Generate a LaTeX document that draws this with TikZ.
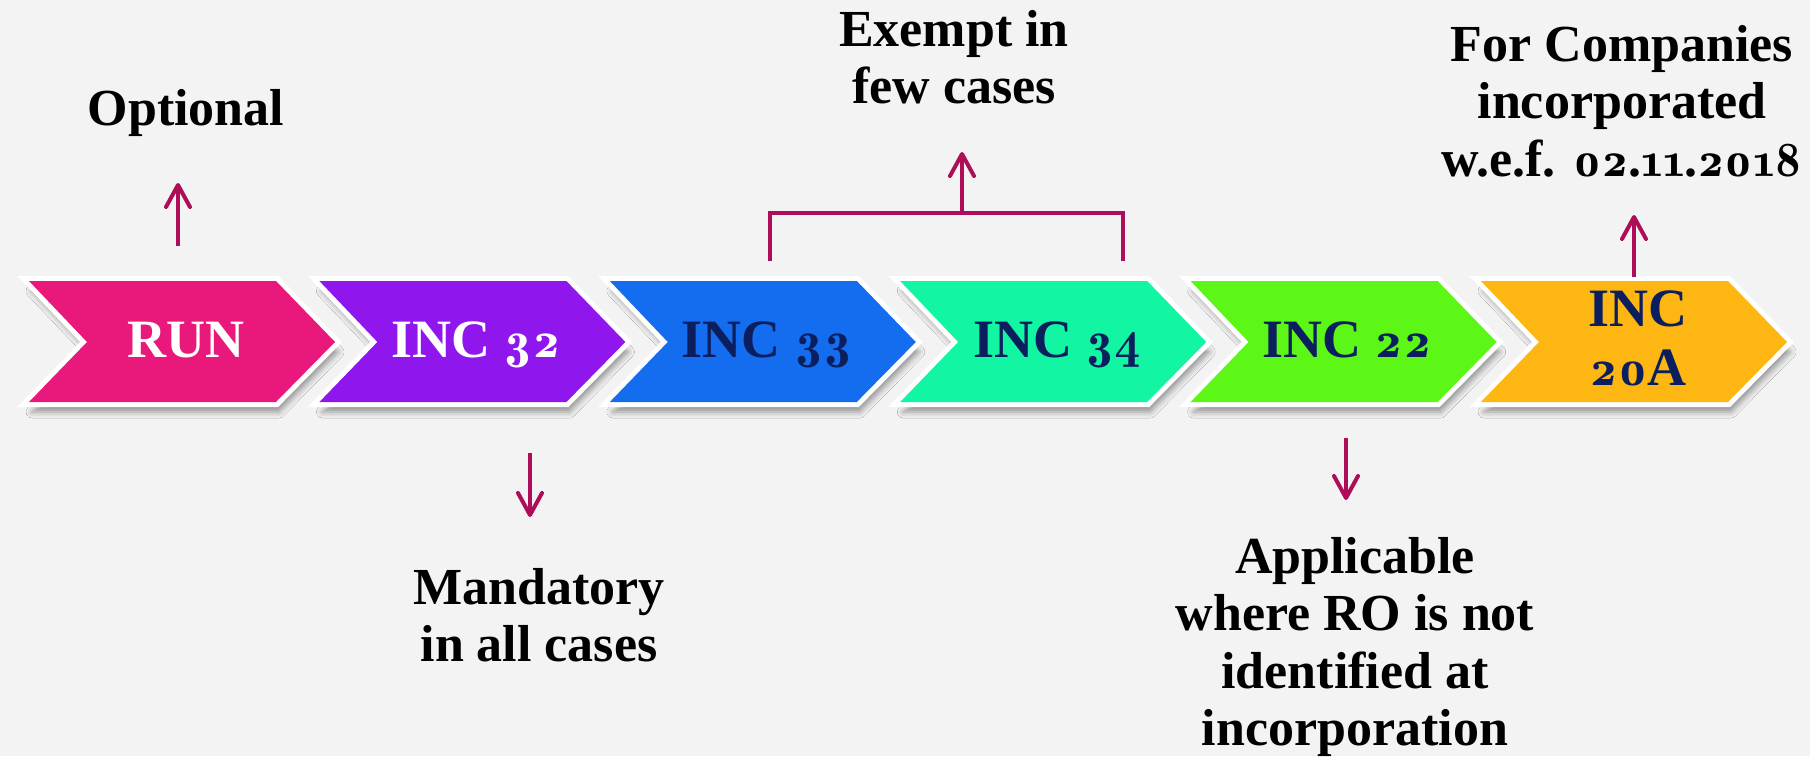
\documentclass[tikz,border=0pt]{standalone}
\usepackage{fontspec}
\setmainfont{Liberation Serif}
\newfontfamily\osfont[Numbers=OldStyle,Scale=0.95]{Latin Modern Roman Demi}
\usepackage{tikz}
\usetikzlibrary{arrows.meta,shadows.blur}
\definecolor{bgpaper}{HTML}{F3F3F3}
\definecolor{runpink}{HTML}{E9197B}
\definecolor{incpurple}{HTML}{9016EE}
\definecolor{incblue}{HTML}{146DEF}
\definecolor{incteal}{HTML}{12F5A3}
\definecolor{incgreen}{HTML}{5CF717}
\definecolor{incorange}{HTML}{FEB612}
\definecolor{navytext}{HTML}{0B1F5E}
\definecolor{arrowred}{HTML}{AE0D5A}
% old style figures
\newcommand{\osn}[1]{{\osfont #1}}

\begin{document}
\begin{tikzpicture}[
        x=0.5pt, y=-0.5pt,
        chevron/.style={
            draw=white,
            line width=5pt,
            line join=miter,
            blur shadow={shadow xshift=1.5pt, shadow yshift=-5pt,
                shadow opacity=40, shadow blur radius=3pt}
        },
        steplabel/.style={
            font=\fontsize{27pt}{29.5pt}\selectfont\bfseries,
            anchor=base,
            inner sep=0pt
        },
        note/.style={
            font=\fontsize{26pt}{28.75pt}\selectfont\bfseries,
            align=center,
            anchor=north,
            inner sep=0pt
        },
        pointer/.style={
            draw=arrowred,
            line width=2pt,
            -{Straight Barb[length=11pt,width=12pt,round]}
        }
    ]
        \path[use as bounding box, fill=bgpaper] (0,0) rectangle (1810,756);

        \foreach \i/\col in {0/runpink,1/incpurple,2/incblue,3/incteal,4/incgreen,5/incorange} {
            \pgfmathsetmacro\L{29+290.4*\i}
            \filldraw[chevron, fill=white] (\L,281) -- ++(247,0) -- ++(59,61) -- ++(-59,60) -- ++(-247,0) -- ++(58,-60) -- cycle;
            \fill[\col] (\L,281) -- ++(247,0) -- ++(59,61) -- ++(-59,60) -- ++(-247,0) -- ++(58,-60) -- cycle;
        }

        \node[steplabel, text=white] (run) at (186,357) {RUN};
        \node[steplabel, text=white] (inc32) at (476,357) {INC \osn{32}};
        \node[steplabel, text=navytext] (inc33) at (767,357) {INC \osn{33}};
        \node[steplabel, text=navytext] (inc34) at (1057,357) {INC \osn{34}};
        \node[steplabel, text=navytext] (inc22) at (1347,357) {INC \osn{22}};
        \node[steplabel, text=navytext, align=center, anchor=center] (inc20a) at (1638,338) {INC\\\osn{20}A};

        \node[note, anchor=base] (optional) at (186,125) {Optional};
        \node[note] (exempt) at (954,10) {Exempt in\\few cases};
        \node[note] (forcomp) at (1622,25) {For Companies\\incorporated\\w.e.f. \osn{02}.\osn{11}.\osn{2018}};
        \node[note] (mandatory) at (539,568) {Mandatory\\in all cases};
        \node[note] (applicable) at (1355,537) {Applicable\\where RO is not\\identified at\\incorporation};

        % arrow ends
        \coordinate (runout) at (178,246);
        \coordinate (optin) at (178,183);
        \coordinate (incout) at (530,453);
        \coordinate (mandin) at (530,517);
        \coordinate (brleft) at (770,261);
        \coordinate (brright) at (1123,261);
        \coordinate (brmid) at (962,213);
        \coordinate (exin) at (962,152);
        \coordinate (roout) at (1346,438);
        \coordinate (appin) at (1346,500);
        \coordinate (wefout) at (1634,277);
        \coordinate (wefin) at (1634,215);

        \draw[pointer] (runout) -- (optin);
        \draw[pointer] (incout) -- (mandin);
        \draw[draw=arrowred, line width=2pt] (brleft) |- (brmid) -| (brright);
        \draw[pointer] (brmid) -- (exin);
        \draw[pointer] (roout) -- (appin);
        \draw[pointer] (wefout) -- (wefin);
\end{tikzpicture}
\end{document}
